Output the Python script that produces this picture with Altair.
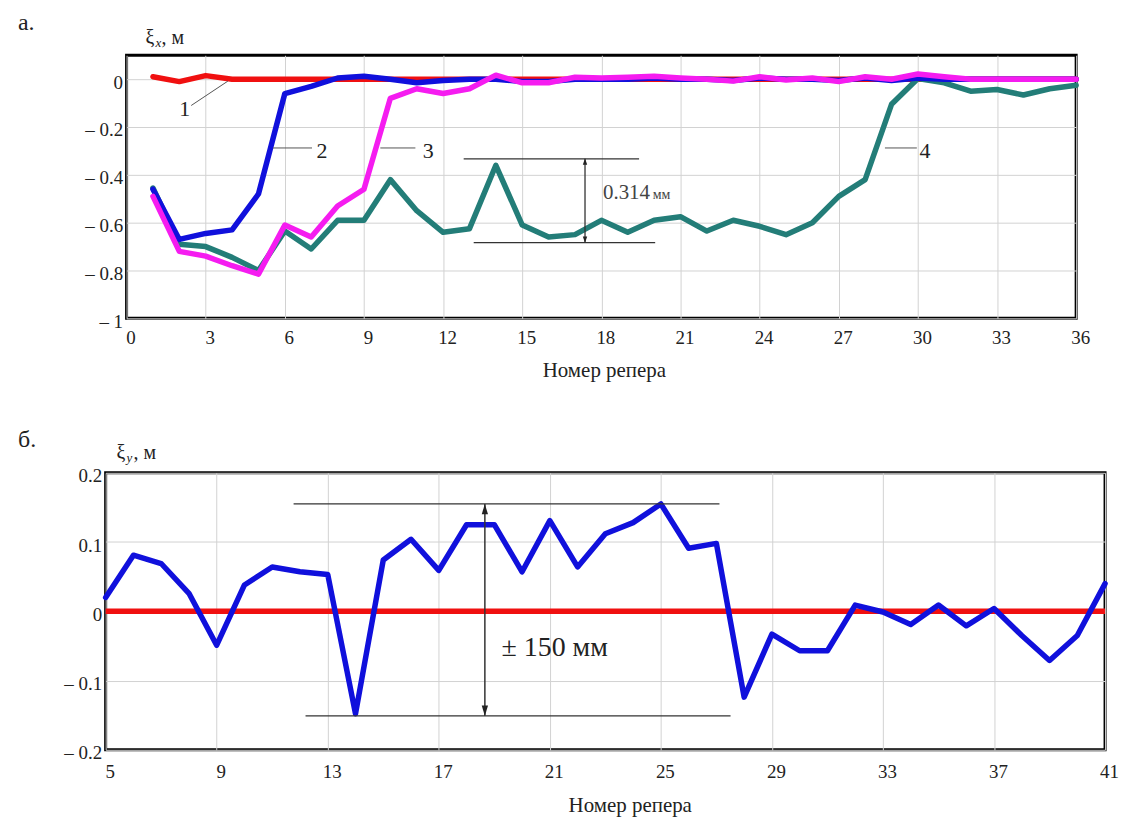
import altair as alt
import pandas as pd

FONT = "Liberation Serif"
INK = "#222222"

# ---------- panel a: xi_x ----------
x_top = list(range(1, 37))
xi1 = [0.01, -0.01, 0.015, 0.0, 0.0, 0.0, 0.0, 0.0, 0.0, 0.0, 0.0, 0.0,
       0.0, 0.0, 0.0, 0.0, 0.0, 0.0, 0.0, 0.0, 0.0, 0.0, 0.0, 0.0,
       0.0, 0.0, 0.0, 0.0, 0.0, 0.0, 0.0, 0.0, 0.0, 0.0, 0.0, 0.0]
xi2 = [-0.46, -0.67, -0.645, -0.63, -0.48, -0.06, -0.03, 0.005, 0.012, 0.0, -0.015, -0.005,
       0.0, 0.0, -0.01, -0.01, 0.0, 0.0, 0.0, 0.005, 0.0, 0.0, -0.005, 0.005,
       0.0, 0.0, -0.005, 0.005, -0.005, 0.005, 0.0, 0.0, 0.0, 0.0, 0.0, 0.0]
xi3 = [-0.49, -0.72, -0.74, -0.78, -0.815, -0.61, -0.66, -0.53, -0.46, -0.08, -0.04, -0.06,
       -0.04, 0.017, -0.015, -0.015, 0.008, 0.005, 0.008, 0.012, 0.005, 0.0, -0.008, 0.01,
       -0.003, 0.005, -0.01, 0.01, 0.0, 0.022, 0.01, 0.0, 0.0, 0.0, 0.0, 0.0]
xi4 = [-0.455, -0.69, -0.70, -0.745, -0.80, -0.635, -0.71, -0.59, -0.59, -0.42, -0.55, -0.64,
       -0.625, -0.36, -0.61, -0.66, -0.65, -0.59, -0.64, -0.59, -0.575, -0.635, -0.59, -0.615,
       -0.65, -0.60, -0.49, -0.42, -0.105, 0.003, -0.015, -0.05, -0.043, -0.066, -0.04, -0.025]
x_ticks_top = list(range(0, 37, 3))
y_ticks_top = [-1.0, -0.8, -0.6, -0.4, -0.2, 0.0]

# leader labels (curve numbers)
lead_x1 = [3.84, 5.55, 9.62, 28.75]
lead_y1 = [-0.008, -0.2875, -0.2875, -0.2875]
lead_x2 = [2.45, 7.03, 10.95, 29.96]
lead_y2 = [-0.11, -0.2875, -0.2875, -0.2875]
lead_tx = [2.2, 7.41, 11.44, 30.27]
lead_ty = [-0.125, -0.3, -0.3, -0.3]
lead_txt = ["1", "2", "3", "4"]

# dimension marks (panel a)
dimA_x1 = [12.78, 13.16]
dimA_x2 = [19.43, 20.04]
dimA_y = [-0.333, -0.683]
arrA_x = 17.38

# ---------- panel b: xi_y ----------
x_bot = list(range(5, 42))
xi_y = [0.02, 0.081, 0.069, 0.026, -0.049, 0.038, 0.064, 0.057, 0.053, -0.148,
        0.074, 0.104, 0.059, 0.125, 0.125, 0.057, 0.131, 0.064, 0.112, 0.128,
        0.155, 0.091, 0.098, -0.124, -0.033, -0.057, -0.057, 0.009, -0.001, -0.019,
        0.009, -0.021, 0.004, -0.035, -0.071, -0.035, 0.04]
x_ticks_bot = list(range(5, 42, 4))
y_ticks_bot = [-0.2, -0.1, 0.0, 0.1, 0.2]
dimB_x1 = [11.77, 12.2]
dimB_x2 = [27.11, 27.51]
dimB_y = [0.155, -0.151]
arrB_x = 18.66

LABEL_EXPR = "datum.value < 0 ? '\u2013 ' + format(-datum.value, '~g') : format(datum.value, '~g')"


def x_axis(values, title_x, title_y, pad):
    return alt.Axis(values=values, title="Номер репера", grid=True, gridColor="#d2d2d2",
                    gridWidth=1, domain=False, ticks=False, labelFont=FONT, labelFontSize=19,
                    labelColor=INK, labelPadding=pad, labelOffset=4, labelFlush=False,
                    labelOverlap=False, titleFont=FONT, titleFontSize=21,
                    titleFontWeight="normal", titleColor=INK, titleX=title_x, titleY=title_y,
                    titleBaseline="alphabetic")


def y_axis(values):
    return alt.Axis(values=values, title=None, grid=True, gridColor="#d2d2d2", gridWidth=1,
                    domain=False, ticks=False, labelFont=FONT, labelFontSize=19,
                    labelColor=INK, labelPadding=4, labelOffset=3, labelFlush=False,
                    labelOverlap=False, labelExpr=LABEL_EXPR)


def pix_text(txt, x, y, size, style="normal", align="left"):
    return alt.Chart(pd.DataFrame({"t": [txt]})).mark_text(
        font=FONT, fontSize=size, fontStyle=style, color=INK, align=align, baseline="middle"
    ).encode(x=alt.value(x), y=alt.value(y), text="t:N")


def spacer():
    return alt.Chart(pd.DataFrame({"t": [""]})).mark_text().encode(
        x=alt.value(0), y=alt.value(0), text="t:N"
    ).properties(width=1, height=1, view=alt.ViewBackground(strokeOpacity=0))


# ---------- build panel a ----------
xs_a = alt.Scale(domain=[0, 36], nice=False, zero=False)
ys_a = alt.Scale(domain=[-1.0, 0.1], nice=False, zero=False)
XA = alt.X("n:Q", scale=xs_a, axis=x_axis(x_ticks_top, 479, 58, 10))
YA = alt.Y("v:Q", scale=ys_a, axis=y_axis(y_ticks_top))


def series(vals, color):
    df = pd.DataFrame({"n": x_top, "v": vals})
    return alt.Chart(df).mark_line(color=color, strokeWidth=5.5, strokeJoin="round",
                                   strokeCap="round").encode(x=XA, y=YA)


lead_df = pd.DataFrame({"x1": lead_x1, "y1": lead_y1, "x2": lead_x2, "y2": lead_y2,
                        "tx": lead_tx, "ty": lead_ty, "t": lead_txt})
leaders = alt.Chart(lead_df).mark_rule(color="#555555", strokeWidth=1).encode(
    x=alt.X("x1:Q", scale=xs_a), y=alt.Y("y1:Q", scale=ys_a), x2="x2:Q", y2="y2:Q")
lead_lbl = alt.Chart(lead_df).mark_text(font=FONT, fontSize=22, color=INK,
                                        baseline="middle").encode(
    x=alt.X("tx:Q", scale=xs_a), y=alt.Y("ty:Q", scale=ys_a), text="t:N")

dimA_df = pd.DataFrame({"x1": dimA_x1, "x2": dimA_x2, "y": dimA_y})
dimA = alt.Chart(dimA_df).mark_rule(color="#333333", strokeWidth=1.3).encode(
    x=alt.X("x1:Q", scale=xs_a), x2="x2:Q", y=alt.Y("y:Q", scale=ys_a))
arrA_df = pd.DataFrame({"x": [arrA_x], "y1": [dimA_y[0]], "y2": [dimA_y[1]]})
arrA = alt.Chart(arrA_df).mark_rule(color="#333333", strokeWidth=1.3).encode(
    x=alt.X("x:Q", scale=xs_a), y=alt.Y("y1:Q", scale=ys_a), y2="y2:Q")
headA_df = pd.DataFrame({"x": [arrA_x, arrA_x],
                         "y": [dimA_y[0] - 0.012, dimA_y[1] + 0.012],
                         "s": ["M0,-1L-0.7,1L0.7,1Z", "M0,1L-0.7,-1L0.7,-1Z"]})
headA = alt.Chart(headA_df).mark_point(filled=True, color="#222222", size=40, opacity=1).encode(
    x=alt.X("x:Q", scale=xs_a), y=alt.Y("y:Q", scale=ys_a),
    shape=alt.Shape("s:N", scale=None))
txtA_df = pd.DataFrame({"x": [18.06, 19.95], "y": [-0.5, -0.5], "t": ["0.314", "мм"]})
txtA1 = alt.Chart(txtA_df.iloc[[0]]).mark_text(font=FONT, fontSize=21, color="#444444",
                                               align="left", baseline="alphabetic").encode(
    x=alt.X("x:Q", scale=xs_a), y=alt.Y("y:Q", scale=ys_a), text="t:N")
txtA2 = alt.Chart(txtA_df.iloc[[1]]).mark_text(font=FONT, fontSize=14, color="#444444",
                                               align="left", baseline="alphabetic").encode(
    x=alt.X("x:Q", scale=xs_a), y=alt.Y("y:Q", scale=ys_a), text="t:N")

panel_a = alt.layer(
    series(xi1, "#f01010"), series(xi4, "#237d78"), series(xi2, "#1010dc"),
    series(xi3, "#f51cf0"),
    leaders, lead_lbl, dimA, arrA, headA, txtA1, txtA2,
    pix_text("а.", -109, -32, 24),
    pix_text("ξ", 19, -17, 20),
    pix_text("x", 29, -12, 13, "italic"),
    pix_text(", м", 35, -17, 20),
).properties(width=953, height=264)

# ---------- build panel b ----------
xs_b = alt.Scale(domain=[5, 41], nice=False, zero=False)
ys_b = alt.Scale(domain=[-0.2, 0.2], nice=False, zero=False)
XB = alt.X("n:Q", scale=xs_b, axis=x_axis(x_ticks_bot, 526, 62, 13))
YB = alt.Y("v:Q", scale=ys_b, axis=y_axis(y_ticks_bot))

df_b = pd.DataFrame({"n": x_bot, "v": xi_y})
zero_df = pd.DataFrame({"n": [x_bot[0], x_bot[-1]], "v": [0.0, 0.0]})
zero_line = alt.Chart(zero_df).mark_line(color="#f01010", strokeWidth=5.5).encode(x=XB, y=YB)
line_b = alt.Chart(df_b).mark_line(color="#1010dc", strokeWidth=5.5, strokeJoin="round",
                                   strokeCap="round").encode(x=XB, y=YB)

dimB_df = pd.DataFrame({"x1": dimB_x1, "x2": dimB_x2, "y": dimB_y})
dimB = alt.Chart(dimB_df).mark_rule(color="#333333", strokeWidth=1.3).encode(
    x=alt.X("x1:Q", scale=xs_b), x2="x2:Q", y=alt.Y("y:Q", scale=ys_b))
arrB_df = pd.DataFrame({"x": [arrB_x], "y1": [dimB_y[0]], "y2": [dimB_y[1]]})
arrB = alt.Chart(arrB_df).mark_rule(color="#333333", strokeWidth=1.5).encode(
    x=alt.X("x:Q", scale=xs_b), y=alt.Y("y1:Q", scale=ys_b), y2="y2:Q")
headB_df = pd.DataFrame({"x": [arrB_x, arrB_x],
                         "y": [dimB_y[0] - 0.0075, dimB_y[1] + 0.0075],
                         "s": ["M0,-1L-0.6,1L0.6,1Z", "M0,1L-0.6,-1L0.6,-1Z"]})
headB = alt.Chart(headB_df).mark_point(filled=True, color="#222222", size=110, opacity=1).encode(
    x=alt.X("x:Q", scale=xs_b), y=alt.Y("y:Q", scale=ys_b),
    shape=alt.Shape("s:N", scale=None))
txtB_df = pd.DataFrame({"x": [19.26], "y": [-0.065], "t": ["± 150 мм"]})
txtB = alt.Chart(txtB_df).mark_text(font=FONT, fontSize=28, color=INK, align="left",
                                    baseline="alphabetic").encode(
    x=alt.X("x:Q", scale=xs_b), y=alt.Y("y:Q", scale=ys_b), text="t:N")

panel_b = alt.layer(
    zero_line, line_b, dimB, arrB, headB, txtB,
    pix_text("б.", -88, -33, 24),
    pix_text("ξ", 11, -20, 20),
    pix_text("y", 21, -15, 13, "italic"),
    pix_text(", м", 28, -20, 20),
).properties(width=1003, height=278)

row_a = alt.hconcat(spacer(), panel_a, spacing=0)
row_b = alt.hconcat(spacer(), panel_b, spacing=0)

chart = alt.vconcat(row_a, row_b, spacing=44).properties(
    padding={"left": 7, "top": 0, "right": 0, "bottom": 0}, background="white"
).configure_view(stroke="black", strokeWidth=3)

chart.save("out.html", embed_options={"renderer": "svg", "actions": False})
